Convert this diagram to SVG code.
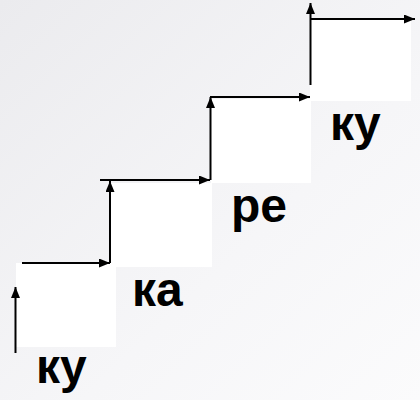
<svg xmlns="http://www.w3.org/2000/svg" width="420" height="400" viewBox="0 0 420 400">
  <defs>
    <linearGradient id="bg" x1="0" y1="0" x2="1" y2="1">
      <stop offset="0" stop-color="#ebebee"/>
      <stop offset="0.6" stop-color="#f6f6f8"/>
      <stop offset="1" stop-color="#fbfbfc"/>
    </linearGradient>
    <marker id="ah" markerUnits="userSpaceOnUse" markerWidth="12" markerHeight="10" refX="11" refY="4.5" orient="auto">
      <path d="M0,0 L11,4.5 L0,9 z" fill="#000"/>
    </marker>
  </defs>
  <style>
    .step { fill: #ffffff; stroke: none; }
    .arrow { stroke: #000; stroke-width: 2; fill: none; marker-end: url(#ah); }
    .lbl { font-family: "Liberation Sans", Arial, sans-serif; font-weight: bold; font-size: 48px; fill: #000; }
  </style>
  <rect x="0" y="0" width="420" height="400" fill="url(#bg)"/>
  <g id="step1"><rect class="step" x="16" y="263" width="100" height="84"/></g>
  <g id="step2"><rect class="step" x="110" y="183" width="102" height="84"/></g>
  <g id="step3"><rect class="step" x="211" y="99" width="100" height="84"/></g>
  <g id="step4"><rect class="step" x="310" y="20" width="101" height="81"/></g>
  <g id="connectors">
    <line class="arrow" x1="15.5" y1="353" x2="15.5" y2="287"/>
    <line class="arrow" x1="22" y1="263" x2="110" y2="263"/>
    <line class="arrow" x1="110" y1="263" x2="110" y2="181"/>
    <line class="arrow" x1="100" y1="180" x2="210" y2="180"/>
    <line class="arrow" x1="210.5" y1="180" x2="210.5" y2="97"/>
    <line class="arrow" x1="210" y1="97" x2="310" y2="97"/>
    <line class="arrow" x1="310.5" y1="85" x2="310.5" y2="3"/>
    <line class="arrow" x1="310" y1="19" x2="415" y2="19"/>
  </g>
  <g id="labels">
    <text class="lbl" x="36" y="383">ку</text>
    <text class="lbl" x="132" y="306">ка</text>
    <text class="lbl" x="231" y="222">ре</text>
    <text class="lbl" x="330" y="140">ку</text>
  </g>
</svg>
